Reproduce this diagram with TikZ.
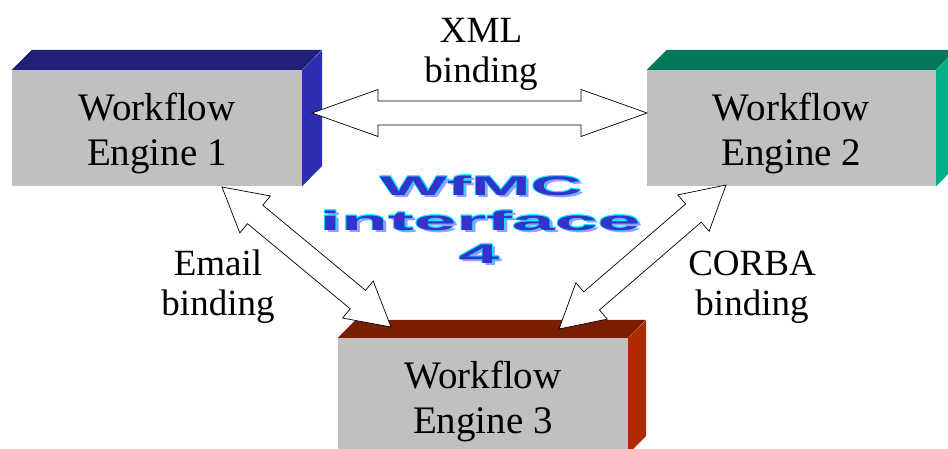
\documentclass[tikz,border=0pt]{standalone}
\usepackage{fontspec}
\setmainfont{Liberation Serif}
\newfontfamily\wafont{Liberation Sans}
\usetikzlibrary{calc}
\definecolor{front}{RGB}{192,192,192}
\definecolor{topA}{RGB}{32,32,120}
\definecolor{sideA}{RGB}{46,46,178}
\definecolor{topB}{RGB}{0,120,90}
\definecolor{sideB}{RGB}{0,176,132}
\definecolor{topC}{RGB}{122,30,0}
\definecolor{sideC}{RGB}{176,42,0}
\definecolor{wblue}{RGB}{51,51,204}
\definecolor{wcyan}{RGB}{0,240,255}
\definecolor{wshadow}{RGB}{153,153,255}
\newcommand\wlayer[3]{\rlap{\hspace{#1}\raisebox{#2}{\color{wcyan}#3}}}
\newcommand\wart[2]{\scalebox{#1}[1]{%
 \rlap{\hspace{1.1pt}\raisebox{-2.6pt}{\color{wshadow}#2}}%
 \wlayer{0.35pt}{0pt}{#2}\wlayer{-0.35pt}{0pt}{#2}\wlayer{0pt}{0.8pt}{#2}\wlayer{0pt}{-0.8pt}{#2}%
 \wlayer{0.25pt}{0.6pt}{#2}\wlayer{-0.25pt}{0.6pt}{#2}\wlayer{0.25pt}{-0.6pt}{#2}\wlayer{-0.25pt}{-0.6pt}{#2}%
 {\color{wblue}#2}}}
\newcommand\dblarrow[5]{%
 \draw[blockarrow] (#1)
 -- ($(#1)!#3!(#2)!#4!90:(#2)$)
 -- ($(#1)!#3!(#2)!#5!90:(#2)$)
 -- ($(#2)!#3!(#1)!#5!-90:(#1)$)
 -- ($(#2)!#3!(#1)!#4!-90:(#1)$)
 -- (#2)
 -- ($(#2)!#3!(#1)!#4!90:(#1)$)
 -- ($(#2)!#3!(#1)!#5!90:(#1)$)
 -- ($(#1)!#3!(#2)!#5!-90:(#2)$)
 -- ($(#1)!#3!(#2)!#4!-90:(#2)$)
 -- cycle;}
\tikzset{
 enginebox/.style={fill=front, minimum width=290pt, minimum height=116pt, inner sep=0pt},
 enginetext/.style={anchor=base, align=center, inner sep=0pt, font=\fontsize{39}{45}\selectfont},
 lbl/.style={anchor=base, align=center, font=\fontsize{37}{40}\selectfont, inner sep=0pt},
 blockarrow/.style={draw=black, fill=white, line width=0.7pt, line join=miter},
 wordart/.style={anchor=base, inner sep=0pt, font=\wafont\bfseries\fontsize{27}{34}\selectfont}
}
\begin{document}
\begin{tikzpicture}[x=1pt,y=-1pt]
\useasboundingbox (0,0) rectangle (948,448);
\begin{scope}
\clip (0,0) rectangle (948,448);
% Engine 1
\node[enginebox] (e1) at (157,128) {};
\fill[topA] (e1.north west) -- ++(20,-20) -- ++(290,0) -- (e1.north east) -- cycle;
\fill[sideA] (e1.north east) -- ++(20,-20) -- ++(0,116) -- (e1.south east) -- cycle;
\node[enginetext] (t1) at ($(e1.center)+(0,37)$) {Workflow\\Engine 1};
% Engine 2
\node[enginebox, minimum width=289pt] (e2) at (791.5,128) {};
\fill[topB] (e2.north west) -- ++(20,-20) -- ++(289,0) -- (e2.north east) -- cycle;
\fill[sideB] (e2.north east) -- ++(20,-20) -- ++(0,116) -- (e2.south east) -- cycle;
\node[enginetext] (t2) at ($(e2.center)+(0,37)$) {Workflow\\Engine 2};
% Engine 3
\node[enginebox] (e3) at (483,396) {};
\fill[topC] (e3.north west) -- ++(18,-18) -- ++(290,0) -- (e3.north east) -- cycle;
\fill[sideC] (e3.north east) -- ++(18,-18) -- ++(0,116) -- (e3.south east) -- cycle;
\node[enginetext] (t3) at ($(e3.center)+(0,37)$) {Workflow\\Engine 3};
\end{scope}
% connector end points
\coordinate (x1) at (312,113);
\coordinate (x2) at (647,113);
\coordinate (m1) at (222,187);
\coordinate (m2) at (391,327);
\coordinate (c1) at (726,185);
\coordinate (c2) at (559,329);
\dblarrow{x1}{x2}{66pt}{23.5pt}{12pt}
\dblarrow{m1}{m2}{43pt}{24pt}{12pt}
\dblarrow{c1}{c2}{43pt}{24pt}{12pt}
% labels
\node[lbl] (lx) at (481,82) {XML\\binding};
\node[lbl] (lm) at (218,315) {Email\\binding};
\node[lbl] (lc) at (752,315) {CORBA\\binding};
% WordArt title
\node[wordart] (w1) at (481,195) {\wart{2.65}{WfMC}};
\node[wordart] (w2) at (480,230) {\wart{2.85}{interface}};
\node[wordart] (w3) at (479,263) {\wart{2.7}{4}};
\end{tikzpicture}
\end{document}
